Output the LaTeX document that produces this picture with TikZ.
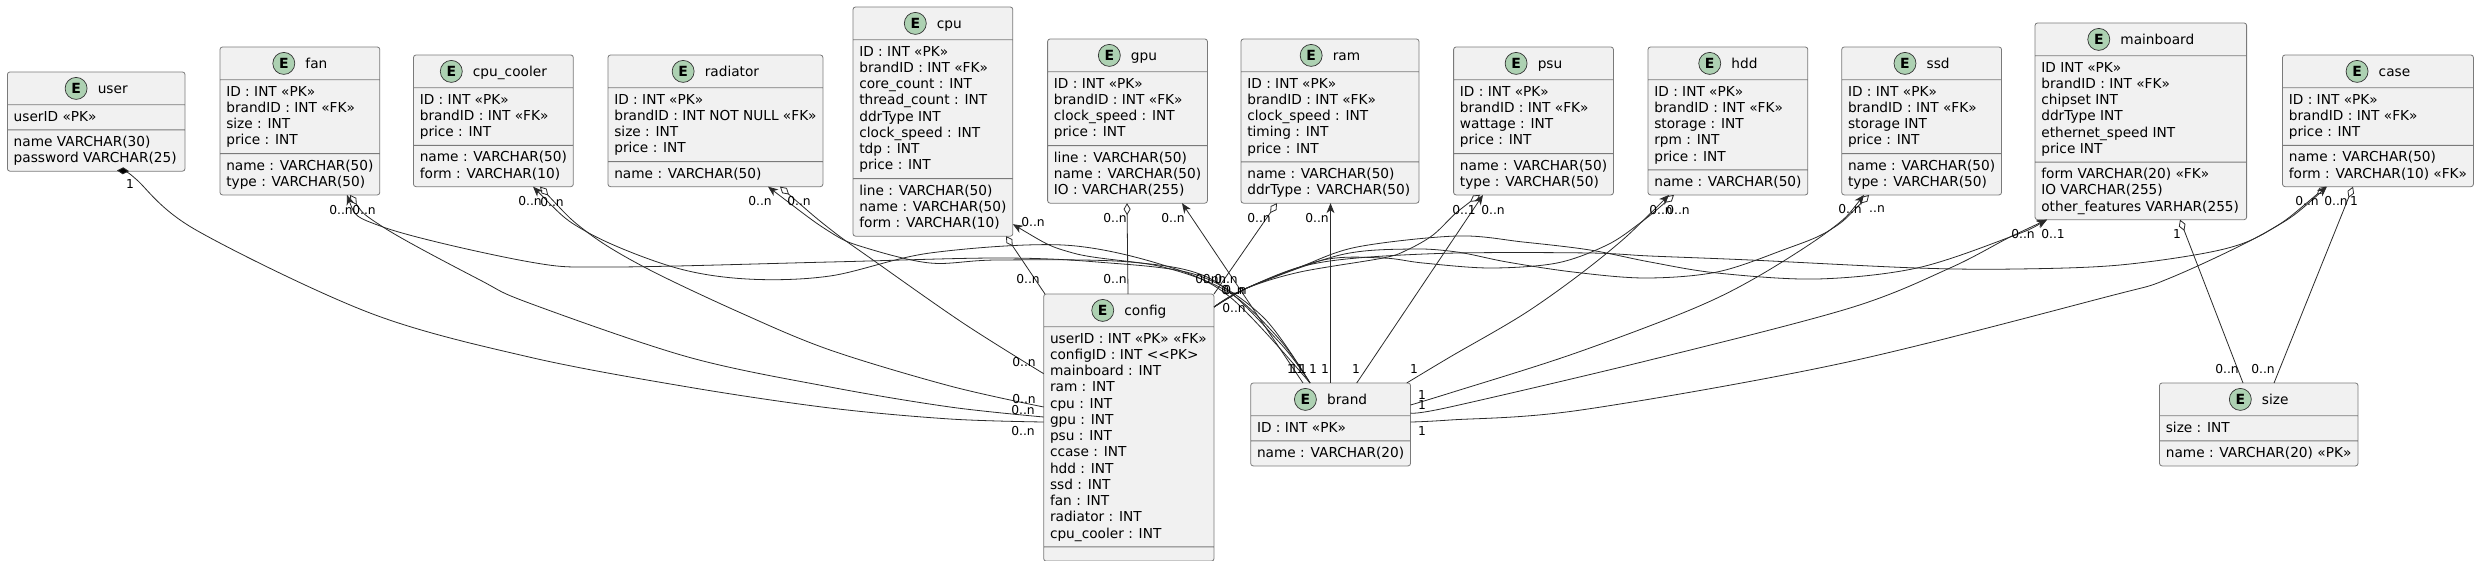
\documentclass[tikz,border=0pt]{standalone}
\usepackage{fontspec}
\setmainfont{DejaVu Sans}
\usepackage{xcolor}
\usetikzlibrary{positioning,shapes.multipart,arrows.meta}

\definecolor{boxfill}{HTML}{F1F1F1}
\definecolor{boxline}{HTML}{7A7A7A}
\definecolor{spotfill}{HTML}{ADD1B2}
\definecolor{linkcol}{HTML}{2A2A2A}

\newcommand{\head}[1]{\rule{0pt}{17pt}\hspace*{33pt}#1\rule[-7pt]{0pt}{0pt}}
\newcommand{\rows}[1]{\rule{0pt}{12pt}#1\rule[-4.25pt]{0pt}{0pt}}
\newcommand{\us}{\_}

\begin{document}
\begin{tikzpicture}[%
    x=1pt,
    y=-1pt,
    >={Stealth[length=10pt,width=8pt,inset=3pt]},
    entity/.style={%
      rectangle split,
      rectangle split parts=3,
      rectangle split part align={center,left,left},
      rectangle split empty part height=0pt,
      align=left,
      anchor=north west,
      inner xsep=6.3pt,
      inner ysep=4pt,
      outer sep=0pt,
      rounded corners=2.5pt,
      draw=boxline,
      line width=0.8pt,
      fill=boxfill,
      font=\fontsize{13.7}{16.25}\selectfont
    },
    spot/.style={%
      circle,
      anchor=west,
      minimum size=22pt,
      inner sep=0pt,
      draw=black!80,
      line width=0.7pt,
      fill=spotfill,
      font=\fontsize{14}{16}\selectfont\bfseries
    },
    mult/.style={%
      inner sep=0pt,
      font=\fontsize{12.3}{14}\selectfont
    },
    link/.style={draw=linkcol,line width=0.8pt},
    toarrow/.style={link,<-},
    todiamond/.style={link,{Diamond[fill=white,length=12pt,width=7pt]}-},
    toblack/.style={link,{Diamond[fill=black,length=12pt,width=7pt]}-}
  ]
    \useasboundingbox (0,0) rectangle (2478,560);

    \node[entity,minimum width=177.6pt] (user) at (7.4,72) {\head{user}
      \nodepart{two}\rows{userID «PK»}
      \nodepart{three}\rows{name VARCHAR(30)\\password VARCHAR(25)}};
    \node[entity,minimum width=158.5pt] (fan) at (220,47) {\head{fan}
      \nodepart{two}\rows{ID : INT «PK»\\brandID : INT «FK»\\size : INT\\price : INT}
      \nodepart{three}\rows{name : VARCHAR(50)\\type : VARCHAR(50)}};
    \node[entity,minimum width=158.5pt] (cpu_cooler) at (413.5,55) {\head{cpu\us cooler}
      \nodepart{two}\rows{ID : INT «PK»\\brandID : INT «FK»\\price : INT}
      \nodepart{three}\rows{name : VARCHAR(50)\\form : VARCHAR(10)}};
    \node[entity,minimum width=211pt] (radiator) at (608,55) {\head{radiator}
      \nodepart{two}\rows{ID : INT «PK»\\brandID : INT NOT NULL «FK»\\size : INT\\price : INT}
      \nodepart{three}\rows{name : VARCHAR(50)}};
    \node[entity,minimum width=159.6pt] (cpu) at (853,7) {\head{cpu}
      \nodepart{two}\rows{ID : INT «PK»\\brandID : INT «FK»\\core\us count : INT\\thread\us count : INT\\ddrType INT\\clock\us speed : INT\\tdp : INT\\price : INT}
      \nodepart{three}\rows{line : VARCHAR(50)\\name : VARCHAR(50)\\form : VARCHAR(10)}};
    \node[entity,minimum width=158.4pt] (gpu) at (1047.6,39) {\head{gpu}
      \nodepart{two}\rows{ID : INT «PK»\\brandID : INT «FK»\\clock\us speed : INT\\price : INT}
      \nodepart{three}\rows{line : VARCHAR(50)\\name : VARCHAR(50)\\IO : VARCHAR(255)}};
    \node[entity,minimum width=178pt] (ram) at (1241,39) {\head{ram}
      \nodepart{two}\rows{ID : INT «PK»\\brandID : INT «FK»\\clock\us speed : INT\\timing : INT\\price : INT}
      \nodepart{three}\rows{name : VARCHAR(50)\\ddrType : VARCHAR(50)}};
    \node[entity,minimum width=158.4pt] (psu) at (1453.6,47) {\head{psu}
      \nodepart{two}\rows{ID : INT «PK»\\brandID : INT «FK»\\wattage : INT\\price : INT}
      \nodepart{three}\rows{name : VARCHAR(50)\\type : VARCHAR(50)}};
    \node[entity,minimum width=158pt] (hdd) at (1648,47) {\head{hdd}
      \nodepart{two}\rows{ID : INT «PK»\\brandID : INT «FK»\\storage : INT\\rpm : INT\\price : INT}
      \nodepart{three}\rows{name : VARCHAR(50)}};
    \node[entity,minimum width=158.9pt] (ssd) at (1841.7,47) {\head{ssd}
      \nodepart{two}\rows{ID : INT «PK»\\brandID : INT «FK»\\storage INT\\price : INT}
      \nodepart{three}\rows{name : VARCHAR(50)\\type : VARCHAR(50)}};
    \node[entity,minimum width=211.6pt] (mainboard) at (2035,23) {\head{mainboard}
      \nodepart{two}\rows{ID INT «PK»\\brandID : INT «FK»\\chipset INT\\ddrType INT\\ethernet\us speed INT\\price INT}
      \nodepart{three}\rows{form VARCHAR(20) «FK»\\IO VARCHAR(255)\\other\us features VARHAR(255)}};
    \node[entity,minimum width=190pt] (case) at (2282.5,55) {\head{case}
      \nodepart{two}\rows{ID : INT «PK»\\brandID : INT «FK»\\price : INT}
      \nodepart{three}\rows{name : VARCHAR(50)\\form : VARCHAR(10) «FK»}};
    \node[entity,minimum width=170.3pt] (config) at (1043.7,294) {\head{config}
      \nodepart{two}\rows{userID : INT «PK» «FK»\\configID : INT <{}<PK>\\mainboard : INT\\ram : INT\\cpu : INT\\gpu : INT\\psu : INT\\ccase : INT\\hdd : INT\\ssd : INT\\fan : INT\\radiator : INT\\cpu\us cooler : INT}
      \nodepart{three}};
    \node[entity,minimum width=158.3pt] (brand) at (1250.7,383) {\head{brand}
      \nodepart{two}\rows{ID : INT «PK»}
      \nodepart{three}\rows{name : VARCHAR(20)}};
    \node[entity,minimum width=198.5pt] (size) at (2159.5,383) {\head{size}
      \nodepart{two}\rows{size : INT}
      \nodepart{three}\rows{name : VARCHAR(20) «PK»}};

    \foreach \ent in {user,fan,cpu_cooler,radiator,cpu,gpu,ram,psu,hdd,ssd,mainboard,case,config,brand,size}
      \node[spot] (\ent-spot) at ([yshift=5pt]\ent.text) {E};

    % to config
    \draw[toblack] plot[smooth,tension=0.55] coordinates {([xshift=121.6pt]user.south west) (137,180) (196,230) (370,313) (529,357) (688,387) (830,408) (950,419) ([yshift=-128pt]config.north west)};
    \draw[todiamond] plot[smooth,tension=0.55] coordinates {([xshift=130pt]fan.south west) (383,227) (480,280) (529,303) (688,357) (830,387) (950,407) ([yshift=-123pt]config.north west)};
    \draw[todiamond] plot[smooth,tension=0.55] coordinates {([xshift=126.5pt]cpu_cooler.south west) (587,232) (646,268) (741,313) (830,350) (950,386) ([yshift=-113pt]config.north west)};
    \draw[todiamond] plot[smooth,tension=0.55] coordinates {([xshift=172pt]radiator.south west) (830,229) (873,260) (963,323) ([yshift=-79.7pt]config.north west)};
    \draw[todiamond] ([xshift=153pt]cpu.south west) -- ([xshift=1.3pt]config.north west);
    \draw[todiamond] ([xshift=79.4pt]gpu.south west) -- ([xshift=84.3pt]config.north west);
    \draw[todiamond] ([xshift=36pt]ram.south west) -- (config.north east);
    \draw[todiamond] plot[smooth,tension=0.55] coordinates {([xshift=26.4pt]psu.south west) (1457,212) (1433,235) (1407,250) (1383,258) (1300,272) (1247,288) ([yshift=-13pt]config.north east)};
    \draw[todiamond] plot[smooth,tension=0.55] coordinates {([xshift=26pt]hdd.south west) (1640,223) (1607,245) (1557,263) (1490,268) (1423,263) (1383,258) (1323,260) (1247,288) ([yshift=-13pt]config.north east)};
    \draw[todiamond] plot[smooth,tension=0.55] coordinates {([xshift=27.3pt]ssd.south west) (1830,230) (1783,250) (1717,272) (1645,278) (1573,272) (1507,262) (1457,252) (1410,249) (1340,255) (1247,288) ([yshift=-13pt]config.north east)};
    \draw[toarrow] plot[smooth,tension=0.55] coordinates {([xshift=12pt]mainboard.south west) (2010,237) (1917,268) (1817,279) (1717,273) (1650,262) (1590,250) (1523,242) (1457,236) (1357,247) (1300,267) (1247,288) ([yshift=-13pt]config.north east)};
    \draw[todiamond] plot[smooth,tension=0.55] coordinates {([xshift=43.5pt]case.south west) (2270,230) (2220,250) (2120,265) (2017,269) (1917,268) (1750,260) (1650,256) (1590,253) (1457,253) (1357,258) (1300,267) (1247,288) ([yshift=-13pt]config.north east)};

    % to brand
    \draw[toarrow] plot[smooth,tension=0.55] coordinates {([xshift=127pt]fan.south west) (383,227) (530,262) (613,267) (830,262) (997,258) (1097,262) (1197,275) (1263,317) ([xshift=59.3pt]brand.north west)};
    \draw[toarrow] plot[smooth,tension=0.55] coordinates {([xshift=119.5pt]cpu_cooler.south west) (587,232) (673,267) (747,279) (830,276) (930,253) (1063,245) (1163,265) (1230,297) ([xshift=59.3pt]brand.north west)};
    \draw[toarrow] plot[smooth,tension=0.55] coordinates {([xshift=160pt]radiator.south west) (830,232) (863,247) (930,263) (997,260) (1130,262) (1213,280) (1280,343) ([xshift=59.3pt]brand.north west)};
    \draw[toarrow] plot[smooth,tension=0.55] coordinates {([yshift=12pt]cpu.south east) (1073,253) (1163,267) (1230,293) (1280,340) ([xshift=59.3pt]brand.north west)};
    \draw[toarrow] ([xshift=134.4pt]gpu.south west) -- ([xshift=52.3pt]brand.north west);
    \draw[toarrow] ([xshift=89.5pt]ram.south west) -- ([xshift=79.8pt]brand.north west);
    \draw[toarrow] ([xshift=29.4pt]psu.south west) -- ([xshift=106pt]brand.north west);
    \draw[toarrow] plot[smooth,tension=0.55] coordinates {([xshift=21pt]hdd.south west) (1607,253) (1530,310) (1450,357) ([xshift=156pt]brand.north west)};
    \draw[toarrow] plot[smooth,tension=0.55] coordinates {([xshift=22.3pt]ssd.south west) (1830,230) (1757,277) (1690,310) (1570,355) (1450,393) ([yshift=-22pt]brand.north east)};
    \draw[toarrow] plot[smooth,tension=0.55] coordinates {([xshift=12pt]mainboard.south west) (2010,237) (1950,268) (1850,308) (1650,360) (1450,407) ([yshift=-30pt]brand.north east)};
    \draw[toarrow] plot[smooth,tension=0.55] coordinates {([xshift=44.5pt]case.south west) (2270,230) (2170,278) (2106,297) (1843,363) (1581,410) (1450,420) ([yshift=-39pt]brand.north east)};

    % to size
    \draw[todiamond] ([xshift=145pt]mainboard.south west) -- ([xshift=83.5pt]size.north west);
    \draw[todiamond] ([xshift=70.5pt]case.south west) -- ([xshift=114.5pt]size.north west);

    \foreach \lx/\ly/\ltxt [count=\i] in {%
      130/184/1, 341/210/0..n, 364/210/0..n, 530/201/0..n, 552/202/0..n,
      760/201/0..n, 799/201/0..n, 1033/222/0..n, 1028/279/0..n,
      1115/218/0..n, 1115/279/0..n, 1173/218/0..n, 1259/218/0..n, 1317/218/0..n,
      1464/210/0..1, 1493/210/0..n, 1661/210/0..n, 1678/210/0..n,
      1850/209/0..n, 1877/209/..n, 2023/234/0..n, 2053/234/0..1, 2177/234/1,
      2307/201/0..n, 2336/201/0..n, 2354/201/1, 2227/369/0..n, 2263/369/0..n,
      1207/279/0..n, 1214.5/279/0..n, 1226/279/0..n, 1233/290/0..n, 1235/290/0..n, 1234/308/0..n,
      1024/362/0..n, 1024/399/0..n, 1023/410/0..n, 1023/431/0..n,
      1291/369/1, 1294/369/1, 1300/369/1, 1303/369/1, 1313/369/1, 1325/369/1, 1356/369/1, 1414/369/1,
      1422/395/1, 1422/405/1, 1422/431/1}
      \node[mult] (mult\i) at (\lx,\ly) {\ltxt};
\end{tikzpicture}
\end{document}
